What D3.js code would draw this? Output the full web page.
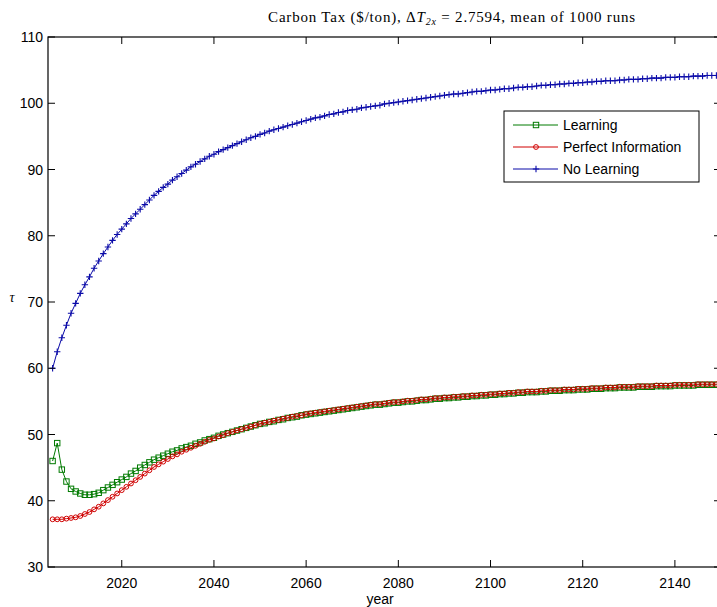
<!DOCTYPE html>
<html lang="en">
<head>
<meta charset="UTF-8">
<title>Carbon Tax</title>
<script src="https://d3js.org/d3.v7.min.js"></script>
<style>
  body { margin: 0; background: #fff; }
  .tick-label { font-family: "Liberation Sans", Arial, sans-serif; font-size: 14px; fill: #000; }
  .legend-text { font-family: "Liberation Sans", Arial, sans-serif; font-size: 14px; fill: #000; }
  .title { font-family: "Liberation Serif", "DejaVu Serif", serif; font-size: 15px; letter-spacing: 0.8px; fill: #000; }
</style>
</head>
<body>
<svg width="717" height="607"></svg>
<script>
// years 2005..2150, one point per year
var years = d3.range(2005, 2151);

var learning = [
  46.0, 48.7, 44.7, 42.9, 41.8, 41.4, 41.1, 40.9, 40.9, 41.0,   // 2005-2014
  41.2, 41.6, 42.0, 42.4, 42.8, 43.2, 43.6, 44.1, 44.5, 45.0,   // 2015-2024
  45.4, 45.8, 46.2, 46.5, 46.8, 47.1, 47.4, 47.6, 47.9, 48.1,   // 2025-2034
  48.3, 48.6, 48.8, 49.1, 49.3, 49.5, 49.8, 50.0, 50.2, 50.4,   // 2035-2044
  50.6, 50.8, 51.0, 51.2, 51.4, 51.6, 51.7, 51.9, 52.0, 52.2,   // 2045-2054
  52.3, 52.5, 52.6, 52.7, 52.9, 53.0, 53.1, 53.2, 53.3, 53.4,   // 2055-2064
  53.5, 53.6, 53.7, 53.8, 53.9, 54.0, 54.1, 54.2, 54.3, 54.4,   // 2065-2074
  54.5, 54.5, 54.6, 54.7, 54.8, 54.8, 54.9, 55.0, 55.0, 55.1,   // 2075-2084
  55.2, 55.2, 55.3, 55.4, 55.4, 55.5, 55.5, 55.6, 55.6, 55.7,   // 2085-2094
  55.7, 55.8, 55.8, 55.9, 55.9, 56.0, 56.0, 56.1, 56.1, 56.2,   // 2095-2104
  56.2, 56.3, 56.3, 56.4, 56.4, 56.4, 56.5, 56.5, 56.6, 56.6,   // 2105-2114
  56.6, 56.7, 56.7, 56.7, 56.8, 56.8, 56.8, 56.9, 56.9, 56.9,   // 2115-2124
  57.0, 57.0, 57.0, 57.1, 57.1, 57.1, 57.1, 57.2, 57.2, 57.2,   // 2125-2134
  57.2, 57.3, 57.3, 57.3, 57.3, 57.4, 57.4, 57.4, 57.4, 57.4,   // 2135-2144
  57.5, 57.5, 57.5, 57.5, 57.5, 57.6                            // 2145-2150
];

var perfectInfo = [
  37.2, 37.2, 37.2, 37.3, 37.4, 37.5, 37.7, 38.0, 38.3, 38.7,
  39.1, 39.6, 40.1, 40.6, 41.1, 41.6, 42.1, 42.6, 43.1, 43.6,
  44.1, 44.6, 45.1, 45.5, 45.9, 46.3, 46.7, 47.0, 47.4, 47.7,
  48.0, 48.3, 48.6, 48.9, 49.2, 49.4, 49.7, 49.9, 50.2, 50.4,
  50.6, 50.8, 51.0, 51.2, 51.4, 51.6, 51.8, 51.9, 52.1, 52.2,
  52.4, 52.5, 52.7, 52.8, 52.9, 53.1, 53.2, 53.3, 53.4, 53.5,
  53.6, 53.7, 53.8, 53.9, 54.0, 54.1, 54.2, 54.3, 54.4, 54.5,
  54.6, 54.6, 54.7, 54.8, 54.9, 54.9, 55.0, 55.1, 55.1, 55.2,
  55.3, 55.3, 55.4, 55.5, 55.5, 55.6, 55.6, 55.7, 55.7, 55.8,
  55.8, 55.9, 55.9, 56.0, 56.0, 56.1, 56.1, 56.2, 56.2, 56.3,
  56.3, 56.4, 56.4, 56.5, 56.5, 56.5, 56.6, 56.6, 56.7, 56.7,
  56.7, 56.8, 56.8, 56.8, 56.9, 56.9, 56.9, 57.0, 57.0, 57.0,
  57.1, 57.1, 57.1, 57.2, 57.2, 57.2, 57.2, 57.3, 57.3, 57.3,
  57.3, 57.4, 57.4, 57.4, 57.4, 57.5, 57.5, 57.5, 57.5, 57.5,
  57.6, 57.6, 57.6, 57.6, 57.6, 57.7
];

var noLearning = [
  60.0, 62.5, 64.6, 66.5, 68.3, 69.8, 71.3, 72.6, 73.8, 75.1,
  76.2, 77.3, 78.3, 79.3, 80.2, 81.0, 81.8, 82.6, 83.3, 84.0,
  84.7, 85.4, 86.1, 86.7, 87.3, 87.8, 88.4, 88.9, 89.4, 89.9,
  90.4, 90.8, 91.2, 91.6, 92.0, 92.3, 92.7, 93.0, 93.3, 93.6,
  93.9, 94.2, 94.5, 94.8, 95.0, 95.3, 95.5, 95.8, 96.0, 96.2,
  96.4, 96.6, 96.8, 97.0, 97.2, 97.4, 97.6, 97.8, 97.9, 98.1,
  98.3, 98.4, 98.6, 98.7, 98.9, 99.0, 99.1, 99.3, 99.4, 99.5,
  99.6, 99.7, 99.9, 100.0, 100.1, 100.2, 100.3, 100.4, 100.5, 100.6,
  100.7, 100.8, 100.9, 101.0, 101.1, 101.2, 101.3, 101.4, 101.4, 101.5,
  101.6, 101.7, 101.8, 101.8, 101.9, 102.0, 102.0, 102.1, 102.2, 102.2,
  102.3, 102.4, 102.4, 102.5, 102.5, 102.6, 102.7, 102.7, 102.8, 102.8,
  102.9, 102.9, 103.0, 103.0, 103.1, 103.1, 103.2, 103.2, 103.3, 103.3,
  103.4, 103.4, 103.4, 103.5, 103.5, 103.6, 103.6, 103.6, 103.7, 103.7,
  103.8, 103.8, 103.8, 103.9, 103.9, 103.9, 104.0, 104.0, 104.0, 104.1,
  104.1, 104.1, 104.2, 104.2, 104.2, 104.3
];

var xTicks = [2020, 2040, 2060, 2080, 2100, 2120, 2140];
var yTicks = [30, 40, 50, 60, 70, 80, 90, 100, 110];

var series = [
    { name: "Learning", values: learning, color: "#007a00", marker: "square" },
    { name: "Perfect Information", values: perfectInfo, color: "#d00000", marker: "circle" },
    { name: "No Learning", values: noLearning, color: "#0a0aa8", marker: "plus" }
];

var svg = d3.select("svg");
var plotLeft = 48, plotRight = 721, plotTop = 37, plotBottom = 567;

var x = d3.scaleLinear().domain([2004, 2150]).range([plotLeft, plotRight]);
var y = d3.scaleLinear().domain([30, 110]).range([plotBottom, plotTop]);

var line = d3.line()
    .x(function(d) { return x(d.year); })
    .y(function(d) { return y(d.value); });

function drawMarker(g, type, cx, cy, color) {
    if (type === "square") {
        g.append("rect").attr("x", cx - 2.7).attr("y", cy - 2.7)
            .attr("width", 5.4).attr("height", 5.4)
            .attr("fill", "none").attr("stroke", color).attr("stroke-width", 1);
    } else if (type === "circle") {
        g.append("circle").attr("cx", cx).attr("cy", cy).attr("r", 2.4)
            .attr("fill", "none").attr("stroke", color).attr("stroke-width", 1);
    } else {
        g.append("path").attr("d", "M" + (cx - 3.2) + "," + cy + "h6.4M" + cx + "," + (cy - 3.2) + "v6.4")
            .attr("stroke", color).attr("stroke-width", 1.1);
    }
}

series.forEach(function(s) {
    var pts = years.map(function(yr, i) { return { year: yr, value: s.values[i] }; })
        .filter(function(d) { return d.value !== undefined; });
    var g = svg.append("g");
    g.append("path").datum(pts)
        .attr("d", line)
        .attr("fill", "none").attr("stroke", s.color).attr("stroke-width", 1);
    pts.forEach(function(d) { drawMarker(g, s.marker, x(d.year), y(d.value), s.color); });
});

// axes box
svg.append("rect")
    .attr("x", plotLeft).attr("y", plotTop)
    .attr("width", plotRight - plotLeft).attr("height", plotBottom - plotTop)
    .attr("fill", "none").attr("stroke", "#000").attr("stroke-width", 1.2);

// inward ticks, MATLAB style
var tl = 7;
xTicks.forEach(function(t) {
    svg.append("line").attr("x1", x(t)).attr("x2", x(t)).attr("y1", plotBottom).attr("y2", plotBottom - tl).attr("stroke", "#000");
    svg.append("line").attr("x1", x(t)).attr("x2", x(t)).attr("y1", plotTop).attr("y2", plotTop + tl).attr("stroke", "#000");
    svg.append("text").attr("class", "tick-label")
        .attr("x", x(t)).attr("y", plotBottom + 21)
        .attr("text-anchor", "middle").text(t);
});
yTicks.forEach(function(t) {
    svg.append("line").attr("x1", plotLeft).attr("x2", plotLeft + tl).attr("y1", y(t)).attr("y2", y(t)).attr("stroke", "#000");
    svg.append("line").attr("x1", plotRight).attr("x2", plotRight - tl).attr("y1", y(t)).attr("y2", y(t)).attr("stroke", "#000");
    svg.append("text").attr("class", "tick-label")
        .attr("x", plotLeft - 5).attr("y", y(t) + 5)
        .attr("text-anchor", "end").text(t);
});

// axis labels
svg.append("text").attr("class", "tick-label")
    .attr("x", 380).attr("y", 604).attr("text-anchor", "middle").text("year");
svg.append("text")
    .attr("x", 12).attr("y", 302).attr("text-anchor", "middle")
    .attr("font-family", "Liberation Serif, serif").attr("font-style", "italic")
    .attr("font-size", "14px").text("τ");

// title
var title = svg.append("text").attr("class", "title")
    .attr("x", 452).attr("y", 22).attr("text-anchor", "middle");
title.append("tspan").text("Carbon Tax ($/ton), Δ");
title.append("tspan").attr("font-style", "italic").text("T");
title.append("tspan").attr("font-style", "italic").attr("font-size", "10px").attr("dy", 3).text("2x");
title.append("tspan").attr("dy", -3).text(" = 2.7594, mean of 1000 runs");

// legend
var lg = svg.append("g");
lg.append("rect").attr("x", 504).attr("y", 111).attr("width", 195).attr("height", 71)
    .attr("fill", "#fff").attr("stroke", "#000").attr("stroke-width", 1);
series.forEach(function(s, i) {
    var ly = 125 + i * 22;
    lg.append("line").attr("x1", 513).attr("x2", 558).attr("y1", ly).attr("y2", ly)
        .attr("stroke", s.color).attr("stroke-width", 1);
    drawMarker(lg, s.marker, 536, ly, s.color);
    lg.append("text").attr("class", "legend-text")
        .attr("x", 563).attr("y", ly + 5).text(s.name);
});
</script>
</body>
</html>
